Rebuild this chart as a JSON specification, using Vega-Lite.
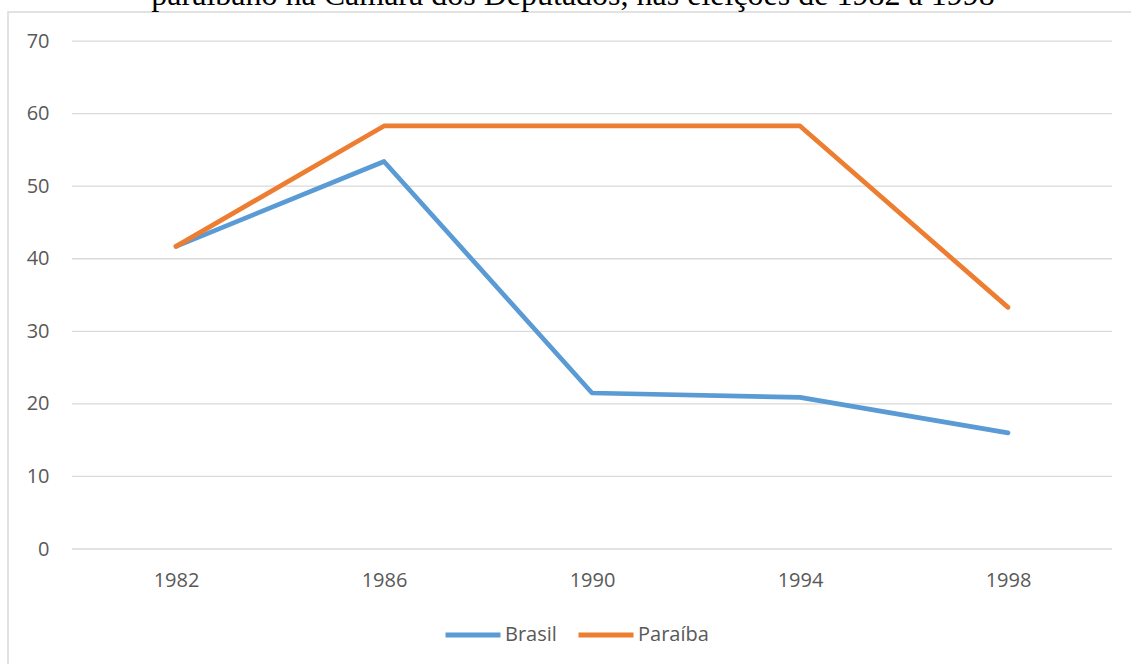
{
  "$schema": "https://vega.github.io/schema/vega-lite/v6.json",
  "width": 1130,
  "height": 700,
  "autosize": {"type": "none"},
  "padding": {"left": 8, "top": 12, "right": 0, "bottom": 0},
  "background": "white",
  "title": {
    "text": "paraibano na Câmara dos Deputados, nas eleições de 1982 a 1998",
    "font": "Liberation Serif",
    "fontSize": 32,
    "fontWeight": "normal",
    "color": "#000000",
    "anchor": "middle",
    "baseline": "alphabetic",
    "offset": 0,
    "dy": 25
  },
  "config": {
    "view": {"stroke": "#d9d9d9", "strokeWidth": 1.5},
    "axis": {
      "grid": false,
      "domain": false,
      "ticks": false,
      "labelPadding": 0,
      "labelFont": "Open Sans",
      "labelFontSize": 20,
      "labelColor": "#595959",
      "title": null
    }
  },
  "layer": [
    {
      "data": {"values": [{"v": 0}, {"v": 10}, {"v": 20}, {"v": 30}, {"v": 40}, {"v": 50}, {"v": 60}, {"v": 70}]},
      "mark": {"type": "rule", "stroke": "#d9d9d9", "strokeWidth": 1.3},
      "encoding": {
        "y": {"field": "v", "type": "quantitative",
              "scale": {"domain": [-22.46, 74.0], "nice": false, "zero": false},
              "axis": {"values": [0, 10, 20, 30, 40, 50, 60, 70], "offset": -41, "labelBaseline": "middle"}},
        "x": {"datum": 1980, "type": "quantitative",
              "scale": {"domain": [1978.769, 2000.5], "nice": false, "zero": false},
              "axis": {"values": [1982, 1986, 1990, 1994, 1998], "format": "d", "offset": -131.5, "labelBaseline": "middle"}},
        "x2": {"datum": 2000}
      }
    },
    {
      "data": {"values": [
        {"ano": 1982, "serie": "Brasil", "valor": 41.7},
        {"ano": 1986, "serie": "Brasil", "valor": 53.4},
        {"ano": 1990, "serie": "Brasil", "valor": 21.5},
        {"ano": 1994, "serie": "Brasil", "valor": 20.9},
        {"ano": 1998, "serie": "Brasil", "valor": 16.0},
        {"ano": 1982, "serie": "Paraíba", "valor": 41.7},
        {"ano": 1986, "serie": "Paraíba", "valor": 58.3},
        {"ano": 1990, "serie": "Paraíba", "valor": 58.3},
        {"ano": 1994, "serie": "Paraíba", "valor": 58.3},
        {"ano": 1998, "serie": "Paraíba", "valor": 33.3}
      ]},
      "mark": {"type": "line", "strokeWidth": 4.7, "strokeCap": "round", "strokeJoin": "round"},
      "encoding": {
        "x": {"field": "ano", "type": "quantitative",
              "scale": {"domain": [1978.769, 2000.5], "nice": false, "zero": false},
              "axis": {"values": [1982, 1986, 1990, 1994, 1998], "format": "d", "offset": -131.5, "labelBaseline": "middle"}},
        "y": {"field": "valor", "type": "quantitative",
              "scale": {"domain": [-22.46, 74.0], "nice": false, "zero": false},
              "axis": {"values": [0, 10, 20, 30, 40, 50, 60, 70], "offset": -41, "labelBaseline": "middle"}},
        "color": {"field": "serie", "type": "nominal",
                  "scale": {"domain": ["Brasil", "Paraíba"], "range": ["#5B9BD5", "#ED7D31"]},
                  "legend": {
                    "title": null,
                    "orient": "none",
                    "direction": "horizontal",
                    "legendX": 435,
                    "legendY": 593,
                    "symbolType": "stroke",
                    "symbolSize": 3025,
                    "symbolStrokeWidth": 5,
                    "labelFont": "Open Sans",
                    "labelFontSize": 20,
                    "labelColor": "#595959",
                    "labelOffset": 2,
                    "columnPadding": 11
                  }}
      }
    }
  ]
}
